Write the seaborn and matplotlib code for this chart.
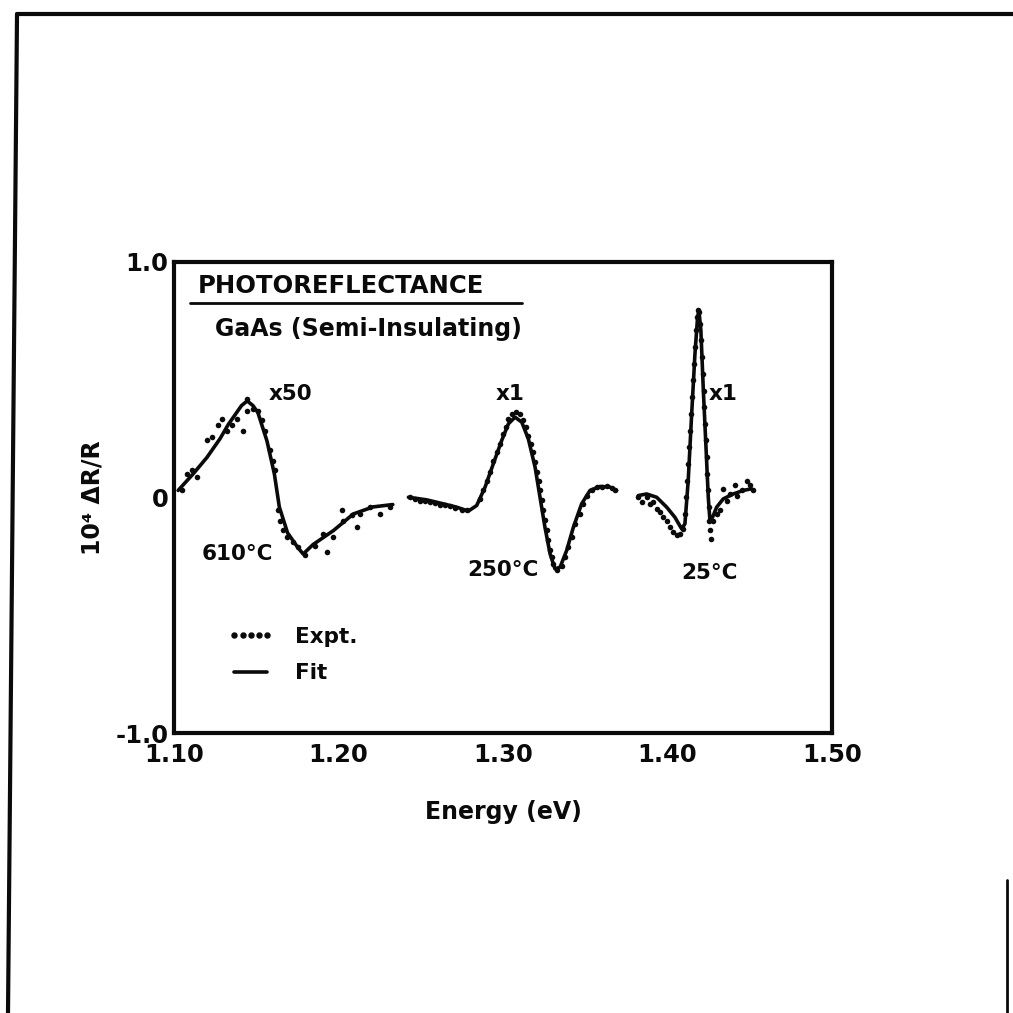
import numpy as np
import pandas as pd
import matplotlib
matplotlib.use("Agg")
import matplotlib.pyplot as plt
import seaborn as sns
from matplotlib.lines import Line2D

# ---------------- data (Energy in eV, 10^4 dR/R) ----------------
# 610 C (x50) fit
e610_fit = [1.1025, 1.1116, 1.1200, 1.1280, 1.1330, 1.1370, 1.1410, 1.1445, 1.1480, 1.1510,
            1.1565, 1.1610, 1.1640, 1.1690, 1.1750, 1.1785, 1.1845, 1.1970, 1.2090, 1.2210,
            1.2330]
v610_fit = [0.03, 0.10, 0.17, 0.25, 0.31, 0.35, 0.39, 0.41, 0.39, 0.36,
            0.24, 0.10, -0.04, -0.15, -0.21, -0.24, -0.20, -0.14, -0.07, -0.04,
            -0.03]
# 610 C experiment
e610_exp = [1.1047, 1.1077, 1.1107, 1.1138, 1.1199, 1.1229, 1.1270, 1.1290, 1.1320, 1.1351,
            1.1381, 1.1421, 1.1446, 1.1446, 1.1482, 1.1513, 1.1533, 1.1553, 1.1584, 1.1604,
            1.1614, 1.1634, 1.1644, 1.1665, 1.1685, 1.1725, 1.1756, 1.1796, 1.1857, 1.1908,
            1.1928, 1.1969, 1.2019, 1.2029, 1.2080, 1.2111, 1.2131, 1.2191, 1.2252, 1.2313]
v610_exp = [0.030, 0.100, 0.115, 0.086, 0.242, 0.256, 0.306, 0.334, 0.284, 0.306,
            0.334, 0.284, 0.419, 0.369, 0.377, 0.369, 0.327, 0.284, 0.200, 0.157,
            0.115, -0.055, -0.098, -0.140, -0.168, -0.190, -0.211, -0.246, -0.204, -0.154,
            -0.232, -0.168, -0.055, -0.098, -0.076, -0.126, -0.069, -0.041, -0.069, -0.041]

# 250 C (x1) fit
e250_fit = [1.2425, 1.2536, 1.2637, 1.2718, 1.2789, 1.2840, 1.2891, 1.2941, 1.2992, 1.3033,
            1.3073, 1.3114, 1.3154, 1.3195, 1.3225, 1.3255, 1.3286, 1.3316, 1.3347, 1.3387,
            1.3428, 1.3478, 1.3529, 1.3590, 1.3651, 1.3691]
v250_fit = [0.001, -0.010, -0.027, -0.041, -0.058, -0.034, 0.044, 0.143, 0.242, 0.313,
            0.341, 0.320, 0.249, 0.129, 0.001, -0.126, -0.239, -0.303, -0.296, -0.225,
            -0.126, -0.027, 0.030, 0.047, 0.044, 0.030]
# 250 C experiment
e250_exp = [1.2435, 1.2465, 1.2496, 1.2526, 1.2556, 1.2587, 1.2617, 1.2648, 1.2678, 1.2708,
            1.2749, 1.2779, 1.2860, 1.2881, 1.2901, 1.2921, 1.2941, 1.2962, 1.2982, 1.3002,
            1.3018, 1.3033, 1.3053, 1.3079, 1.3103, 1.3124, 1.3140, 1.3154, 1.3168, 1.3181,
            1.3195, 1.3205, 1.3217, 1.3225, 1.3235, 1.3245, 1.3255, 1.3266, 1.3276, 1.3286,
            1.3296, 1.3306, 1.3326, 1.3357, 1.3377, 1.3397, 1.3418, 1.3438, 1.3468, 1.3488,
            1.3509, 1.3539, 1.3570, 1.3600, 1.3630, 1.3661, 1.3681]
v250_exp = [0.000, -0.006, -0.013, -0.016, -0.020, -0.024, -0.030, -0.034, -0.038, -0.044,
            -0.052, -0.055, -0.006, 0.030, 0.072, 0.108, 0.157, 0.192, 0.228, 0.270,
            0.299, 0.334, 0.355, 0.362, 0.355, 0.327, 0.299, 0.263, 0.228, 0.192,
            0.150, 0.108, 0.072, 0.030, -0.012, -0.055, -0.097, -0.140, -0.182, -0.225,
            -0.253, -0.282, -0.310, -0.289, -0.253, -0.211, -0.168, -0.112, -0.069, -0.027,
            0.008, 0.030, 0.044, 0.044, 0.047, 0.041, 0.030]

# 25 C (x1) fit
e25_fit = [1.3822, 1.3873, 1.3934, 1.3995, 1.4045, 1.4086, 1.4106, 1.4126, 1.4147, 1.4167,
           1.4183, 1.4191, 1.4203, 1.4218, 1.4234, 1.4248, 1.4258, 1.4274, 1.4299, 1.4339,
           1.4400, 1.4461, 1.4511]
v25_fit = [0.008, 0.015, 0.001, -0.041, -0.084, -0.133, -0.112, 0.072, 0.355, 0.610,
           0.766, 0.794, 0.709, 0.454, 0.214, 0.001, -0.098, -0.084, -0.041, -0.006,
           0.015, 0.030, 0.037]
# 25 C experiment
e25_exp = [1.3822, 1.3843, 1.3873, 1.3893, 1.3914, 1.3934, 1.3954, 1.3974, 1.3995, 1.4015,
           1.4035, 1.4055, 1.4076, 1.4092, 1.4106, 1.4112, 1.4120, 1.4126, 1.4132, 1.4137,
           1.4143, 1.4149, 1.4155, 1.4161, 1.4167, 1.4173, 1.4179, 1.4185, 1.4193, 1.4199,
           1.4205, 1.4209, 1.4216, 1.4220, 1.4224, 1.4228, 1.4234, 1.4238, 1.4242, 1.4246,
           1.4250, 1.4254, 1.4258, 1.4262, 1.4278, 1.4299, 1.4319, 1.4339, 1.4359, 1.4380,
           1.4410, 1.4420, 1.4451, 1.4481, 1.4501, 1.4522]
v25_exp = [0.001, -0.020, 0.001, -0.027, -0.020, -0.048, -0.062, -0.083, -0.098, -0.126,
           -0.147, -0.161, -0.154, -0.133, -0.069, 0.001, 0.072, 0.143, 0.214, 0.284,
           0.355, 0.426, 0.497, 0.568, 0.638, 0.709, 0.766, 0.794, 0.787, 0.737,
           0.667, 0.596, 0.525, 0.454, 0.384, 0.313, 0.242, 0.171, 0.100, 0.030,
           -0.041, -0.098, -0.140, -0.176, -0.098, -0.069, -0.055, 0.037, -0.013, 0.015,
           0.051, 0.008, 0.030, 0.072, 0.051, 0.030]

x_ticks = [1.10, 1.20, 1.30, 1.40, 1.50]
x_tick_labels = ["1.10", "1.20", "1.30", "1.40", "1.50"]
y_ticks = [-1.0, 0.0, 1.0]
y_tick_labels = ["-1.0", "0", "1.0"]

# curve annotations: (text, energy, value)
curve_labels = [("x50", 1.1705, 0.44), ("610°C", 1.1383, -0.24),
                ("x1", 1.3043, 0.44), ("250°C", 1.3000, -0.31),
                ("x1", 1.4337, 0.44), ("25°C", 1.4258, -0.32)]

# ---------------- style ----------------
INK = "#0a0a0a"
sns.set_style("white", rc={"text.color": INK, "axes.labelcolor": INK,
                           "xtick.color": INK, "ytick.color": INK})
plt.rcParams["font.family"] = ["DejaVu Sans"]
plt.rcParams["font.weight"] = "bold"
plt.rcParams["axes.labelweight"] = "bold"

fig = plt.figure(figsize=(10.13, 10.13), dpi=100)
fig.patch.set_facecolor("white")
ax = fig.add_axes([0.1718, 0.2764, 0.6495, 0.4650])

series = [(e610_fit, v610_fit, e610_exp, v610_exp),
          (e250_fit, v250_fit, e250_exp, v250_exp),
          (e25_fit, v25_fit, e25_exp, v25_exp)]
for ef, vf, ee, ve in series:
    sns.lineplot(x=ef, y=vf, ax=ax, color=INK, lw=2.6, sort=False, estimator=None)
    sns.scatterplot(x=ee, y=ve, ax=ax, color=INK, s=16, linewidth=0)

ax.set_xlim(1.10, 1.50)
ax.set_ylim(-1.0, 1.0)
ax.set_xticks(x_ticks)
ax.set_xticklabels(x_tick_labels)
ax.set_yticks(y_ticks)
ax.set_yticklabels(y_tick_labels)
ax.tick_params(axis="both", direction="in", length=8, width=2, color=INK,
               labelsize=17.5, labelcolor=INK)
ax.tick_params(axis="x", pad=7)
ax.tick_params(axis="y", pad=4)
for s in ax.spines.values():
    s.set_linewidth(3)
    s.set_color(INK)
    s.set_visible(True)

ax.set_xlabel("Energy (eV)", fontsize=17, labelpad=24, color=INK, fontweight="bold")
ax.set_ylabel("10⁴ ΔR/R", fontsize=17, labelpad=8, color=INK, fontweight="bold")

for txt, ex, vy in curve_labels:
    ax.text(ex, vy, txt, fontsize=15.5, ha="center", va="center", color=INK,
            fontweight="bold")

ax.text(0.0365, 0.949, "PHOTOREFLECTANCE", transform=ax.transAxes,
        fontsize=17.5, fontweight="bold", ha="left", va="center", color=INK)
ax.add_line(Line2D([0.024, 0.529], [0.913, 0.913], transform=ax.transAxes,
                   color=INK, lw=2))
ax.text(0.062, 0.858, "GaAs (Semi-Insulating)", transform=ax.transAxes,
        fontsize=17, fontweight="bold", ha="left", va="center", color=INK)

h_exp = Line2D([], [], ls="none", marker="o", color=INK, markersize=3.6)
h_fit = Line2D([], [], color=INK, lw=2.6)
ax.legend([h_exp, h_fit], ["Expt.", "Fit"], numpoints=5, frameon=False,
          loc="upper left", bbox_to_anchor=(0.082, 0.225), borderpad=0,
          borderaxespad=0, handlelength=2.1, handletextpad=1.0,
          labelspacing=0.75, prop={"size": 15.5, "weight": "bold"})

# scanned page border
fig.add_artist(Line2D([0.0168, 1.0], [0.986, 0.986], transform=fig.transFigure,
                      color=INK, lw=3))
fig.add_artist(Line2D([0.0168, 0.0079], [0.986, 0.0], transform=fig.transFigure,
                      color=INK, lw=3))
fig.add_artist(Line2D([0.9941, 0.9941], [0.131, 0.0], transform=fig.transFigure,
                      color=INK, lw=2))

fig.savefig("out.png", dpi=100, facecolor="white")
